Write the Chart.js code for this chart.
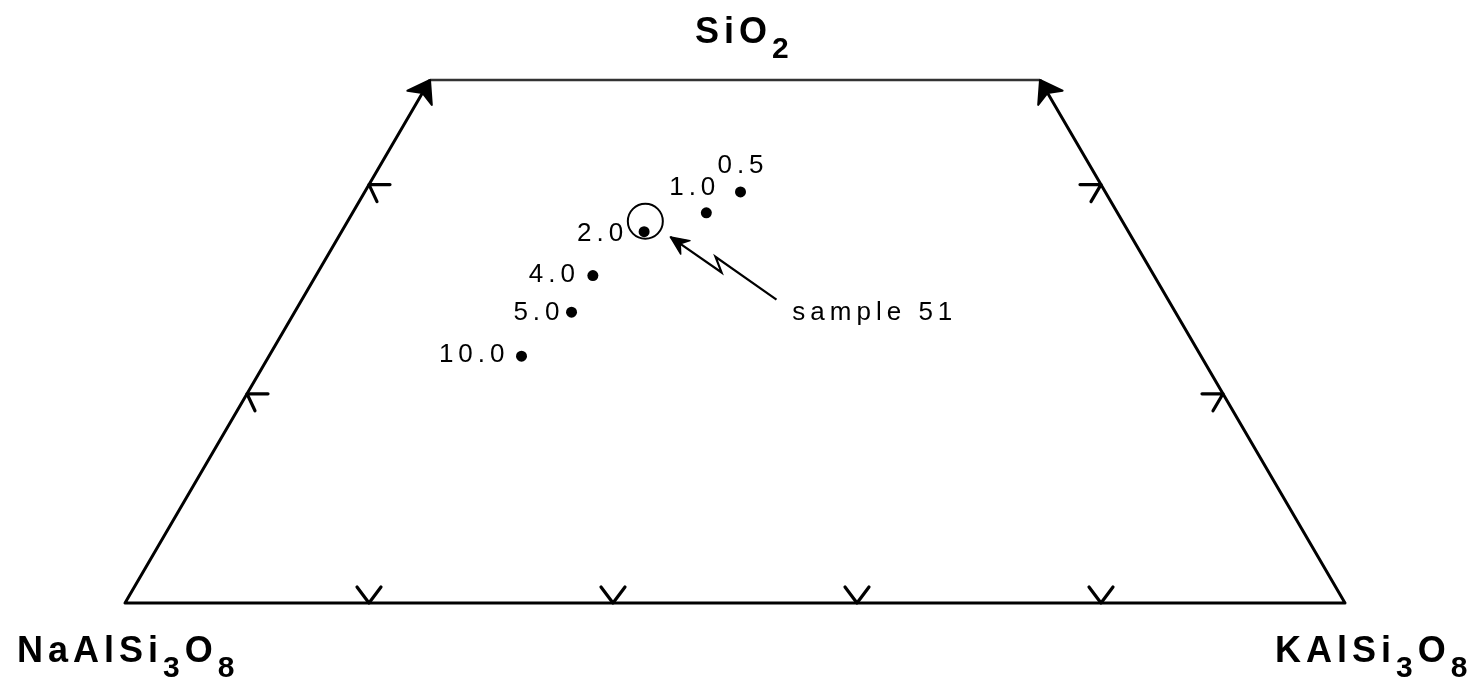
<!DOCTYPE html>
<html>
<head>
<meta charset="utf-8">
<script src="https://cdn.jsdelivr.net/npm/chart.js@4/dist/chart.umd.min.js"></script>
<style>
  html, body { margin: 0; padding: 0; background: #fff; }
  #wrap { width: 1482px; height: 683px; }
</style>
</head>
<body>
<div id="wrap"><canvas id="chart" width="1482" height="683"></canvas></div>
<script>
// experimental melts, labelled by pressure (kbar), wt% normative
const pressureLabels = ['0.5', '1.0', '2.0', '4.0', '5.0', '10.0'];
const sio2 = [39.3, 37.3, 35.5, 31.3, 27.8, 23.6];
const kfs = [30.8, 29.0, 24.8, 22.7, 22.7, 20.7];
const alb = [29.9, 33.7, 39.7, 46.0, 49.5, 55.7];

// sample 51 composition
const sample51Sio2 = [36.5];
const sample51Kfs = [24.4];

// arrow from the "sample 51" note to the circle (plot units: x = Or + Q/2, y = Q)
const arrowX = [44.7, 48.9, 48.4, 53.4];
const arrowY = [35.0, 31.6, 33.1, 29.0];
const noteText = 'sample 51';
const notePos = [54.7, 27.1];

// diagram outline
const sio2Max = 50;
const bottomTicks = [20, 40, 60, 80]; // KAlSi3O8 %
const sideTicks = [20, 40];           // SiO2 %

// x = KAlSi3O8 + SiO2/2 , y = SiO2
const project = (q, k) => ({ x: k + q / 2, y: q });

const outline = [project(sio2Max, 0), project(0, 0), project(0, 100), project(sio2Max, 100 - sio2Max)];
const topEdge = [project(sio2Max, 0), project(sio2Max, 100 - sio2Max)];
const melts = sio2.map((q, i) => project(q, kfs[i]));
const sample51 = sample51Sio2.map((q, i) => project(q, sample51Kfs[i]));
const arrowLine = arrowX.map((x, i) => ({ x: x, y: arrowY[i] }));

// label placement in pixels relative to each dot
const labelOffsets = [[0, -28, 'center'], [9, -27, 'right'], [-21, 0, 'right'], [-18, -3, 'right'], [-12, -1, 'right'], [-17, -3, 'right']];

const FONT = '"Liberation Sans", Arial, Helvetica, sans-serif';

function drawFormula(ctx, parts, x, y) {
  let cx = x;
  parts.forEach(([txt, sub]) => {
    ctx.font = (sub ? 'bold 30px ' : 'bold 36px ') + FONT;
    ctx.letterSpacing = '5px';
    ctx.fillText(txt, cx, sub ? y + 15 : y);
    cx += ctx.measureText(txt).width;
  });
}

function arrowHead(ctx, tip, from, len, halfAngle) {
  const a = Math.atan2(from.y - tip.y, from.x - tip.x);
  ctx.beginPath();
  ctx.moveTo(tip.x, tip.y);
  ctx.lineTo(tip.x + len * Math.cos(a + halfAngle), tip.y + len * Math.sin(a + halfAngle));
  ctx.lineTo(tip.x + len * 0.6 * Math.cos(a), tip.y + len * 0.6 * Math.sin(a));
  ctx.lineTo(tip.x + len * Math.cos(a - halfAngle), tip.y + len * Math.sin(a - halfAngle));
  ctx.closePath();
  ctx.fill();
  ctx.stroke();
}

const ternaryDecor = {
  id: 'ternaryDecor',
  afterDatasetsDraw(chart) {
    const ctx = chart.ctx;
    const xs = chart.scales.x, ys = chart.scales.y;
    const px = (p) => ({ x: xs.getPixelForValue(p.x), y: ys.getPixelForValue(p.y) });
    ctx.save();
    ctx.strokeStyle = '#000';
    ctx.fillStyle = '#000';
    ctx.lineWidth = 3.2;
    ctx.lineCap = 'round';
    ctx.lineJoin = 'round';

    // bottom ticks "v"
    bottomTicks.forEach(t => {
      const p = px(project(0, t));
      ctx.beginPath();
      ctx.moveTo(p.x - 12, p.y - 16);
      ctx.lineTo(p.x, p.y);
      ctx.lineTo(p.x + 12, p.y - 16);
      ctx.stroke();
    });
    // left edge ticks "<"
    sideTicks.forEach(q => {
      const p = px(project(q, 0));
      ctx.beginPath();
      ctx.moveTo(p.x + 21, p.y);
      ctx.lineTo(p.x, p.y);
      ctx.lineTo(p.x + 8, p.y + 17);
      ctx.stroke();
    });
    // right edge ticks ">"
    sideTicks.forEach(q => {
      const p = px(project(q, 100 - q));
      ctx.beginPath();
      ctx.moveTo(p.x - 21, p.y);
      ctx.lineTo(p.x, p.y);
      ctx.lineTo(p.x - 10, p.y + 17);
      ctx.stroke();
    });

    // arrowheads at the top of the side edges
    const tl = px(outline[0]), bl = px(outline[1]);
    const br = px(outline[2]), tr = px(outline[3]);
    ctx.lineWidth = 2;
    arrowHead(ctx, tl, bl, 25, 0.6);
    arrowHead(ctx, tr, br, 25, 0.6);

    // arrow head on the sample 51 pointer
    const aTip = px(arrowLine[0]), aFrom = px(arrowLine[1]);
    ctx.lineWidth = 1.5;
    arrowHead(ctx, aTip, aFrom, 20, 0.42);

    // pressure labels
    ctx.font = '26px ' + FONT;
    ctx.letterSpacing = '5px';
    ctx.textBaseline = 'alphabetic';
    ctx.textAlign = 'left';
    melts.forEach((m, i) => {
      const p = px(m);
      const [dx, dy, al] = labelOffsets[i];
      const w = ctx.measureText(pressureLabels[i]).width - 5;
      const left = al === 'center' ? p.x + dx - w / 2 : p.x + dx - w;
      ctx.fillText(pressureLabels[i], left, p.y + dy + 9);
    });

    // note
    ctx.font = '26px ' + FONT;
    ctx.letterSpacing = '5px';
    const n = px({ x: notePos[0], y: notePos[1] });
    ctx.fillText(noteText, n.x, n.y);

    // corner labels
    const topMid = px(project(sio2Max, (100 - sio2Max) / 2));
    drawFormula(ctx, [['SiO', false], ['2', true]], topMid.x - 40, topMid.y - 37);
    drawFormula(ctx, [['NaAlSi', false], ['3', true], ['O', false], ['8', true]], bl.x - 108, bl.y + 59);
    drawFormula(ctx, [['KAlSi', false], ['3', true], ['O', false], ['8', true]], br.x - 70, br.y + 59);
    ctx.restore();
  }
};

new Chart(document.getElementById('chart'), {
  type: 'scatter',
  data: {
    datasets: [
      { label: 'outline', data: outline, showLine: true, borderColor: '#000', borderWidth: 3, pointRadius: 0, clip: false, borderJoinStyle: 'round' },
      { label: 'truncation', data: topEdge, showLine: true, borderColor: '#333', borderWidth: 2.5, pointRadius: 0, clip: false },
      { label: 'melts', data: melts, pointRadius: 5.5, backgroundColor: '#000', borderColor: '#000', borderWidth: 0, clip: false },
      { label: 'sample 51', data: sample51, pointRadius: 17.5, backgroundColor: 'rgba(0,0,0,0)', borderColor: '#000', borderWidth: 2, clip: false },
      { label: 'pointer', data: arrowLine, showLine: true, borderColor: '#000', borderWidth: 2.2, pointRadius: 0, clip: false }
    ]
  },
  options: {
    responsive: false,
    animation: false,
    devicePixelRatio: 1,
    layout: { padding: { left: 125, right: 137, top: 80, bottom: 80 } },
    scales: {
      x: { type: 'linear', min: 0, max: 100, display: false },
      y: { type: 'linear', min: 0, max: sio2Max, display: false }
    },
    plugins: { legend: { display: false }, tooltip: { enabled: false } }
  },
  plugins: [ternaryDecor]
});
</script>
</body>
</html>
